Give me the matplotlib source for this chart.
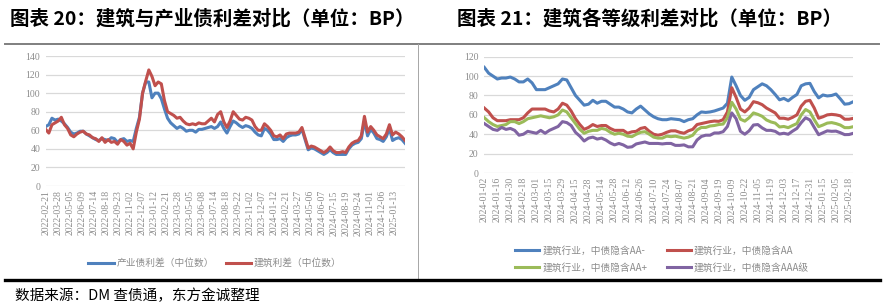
import numpy as np
import matplotlib.pyplot as plt
from matplotlib.lines import Line2D

plt.rcParams['font.family'] = ['Noto Sans CJK SC', 'DejaVu Sans']

# ---- left chart: 产业债 vs 建筑 spreads (BP), one reading about every 6.5 trading days
left_ticks = ['2022-02-21', '2022-03-28', '2022-05-05', '2022-06-09', '2022-07-14',
              '2022-08-18', '2022-09-23', '2022-11-02', '2022-12-07', '2023-01-12',
              '2023-02-21', '2023-03-28', '2023-05-05', '2023-06-08', '2023-07-14',
              '2023-08-18', '2023-09-22', '2023-11-02', '2023-12-07', '2024-01-12',
              '2024-02-21', '2024-03-27', '2024-05-06', '2024-06-07', '2024-07-15',
              '2024-08-19', '2024-09-24', '2024-11-01', '2024-12-06', '2025-01-13']
ind_spread = [64, 66, 73, 71, 72, 70, 67, 63, 58, 56,
              57, 59, 59, 56, 54, 52, 50, 49, 51, 50,
              49, 52, 51, 47, 50, 51, 48, 49, 48, 62,
              74, 100, 112, 112, 95, 100, 100, 94, 83, 73,
              68, 65, 62, 64, 62, 59, 60, 60, 58, 61,
              61, 62, 63, 64, 62, 64, 69, 62, 57, 64,
              70, 68, 65, 63, 65, 64, 62, 58, 55, 54,
              62, 60, 56, 50, 50, 51, 48, 52, 54, 55,
              55, 56, 61, 50, 39, 41, 40, 38, 36, 34,
              36, 39, 36, 34, 34, 34, 34, 40, 44, 46,
              47, 51, 70, 54, 61, 57, 51, 50, 48, 53,
              62, 49, 51, 52, 50, 46]
bld_spread = [61, 57, 66, 68, 70, 74, 66, 62, 55, 53,
              56, 58, 59, 56, 55, 52, 51, 48, 52, 47,
              50, 47, 48, 45, 50, 48, 44, 46, 40, 58,
              72, 100, 113, 125, 118, 108, 112, 110, 92, 80,
              78, 76, 73, 74, 70, 67, 66, 67, 66, 68,
              67, 67, 70, 73, 69, 77, 80, 69, 63, 70,
              80, 76, 72, 71, 74, 73, 71, 64, 60, 60,
              67, 64, 60, 54, 53, 55, 51, 56, 57, 57,
              57, 58, 63, 52, 41, 43, 42, 40, 38, 36,
              38, 42, 38, 36, 36, 37, 36, 42, 46, 48,
              49, 54, 75, 58, 64, 60, 55, 53, 51, 56,
              66, 55, 58, 56, 53, 49]

# ---- right chart: 建筑行业 by implied rating (BP), three readings per 10 trading days
right_ticks = ['2024-01-02', '2024-01-16', '2024-01-30', '2024-02-18', '2024-03-01',
               '2024-03-15', '2024-03-29', '2024-04-15', '2024-04-28', '2024-05-14',
               '2024-05-28', '2024-06-12', '2024-06-26', '2024-07-10', '2024-07-24',
               '2024-08-07', '2024-08-21', '2024-09-04', '2024-09-19', '2024-10-09',
               '2024-10-22', '2024-11-05', '2024-11-19', '2024-12-03', '2024-12-17',
               '2024-12-31', '2025-01-15', '2025-02-05', '2025-02-18']
aa_minus = [109, 103, 100, 97, 98, 98, 99, 97, 94, 94,
            97, 93, 86, 86, 86, 88, 90, 92, 97, 96,
            88, 80, 75, 70, 71, 75, 72, 74, 74, 71,
            68, 68, 66, 63, 62, 66, 69, 65, 61, 58,
            56, 55, 55, 56, 55.5, 55, 53, 55, 56, 60,
            63, 62.5, 63, 64, 65.5, 67, 72, 99, 90, 80,
            75, 78, 86, 89, 92, 90, 86, 81, 75.5, 77,
            74.5, 78, 81, 90, 92, 92.5, 84, 77.5, 80.5, 79.5,
            80, 81.5, 76.5, 71, 71.5, 73.6]
aa = [67, 63, 57, 54, 54, 54, 55, 55, 55, 57,
      62, 66, 66, 66, 66, 64, 63, 66, 72, 70,
      64, 56, 50, 45, 47, 50, 48, 49, 49, 46,
      44, 44, 44, 41, 42.5, 43, 46, 47, 43, 40,
      39, 40, 42, 43.5, 43.5, 42, 41, 43.5, 45, 50,
      51, 52, 53, 53.6, 53.3, 55, 63, 88, 78, 66,
      63, 67, 73.6, 72.5, 70.5, 67, 64.5, 62, 56.5, 56.5,
      55.5, 57.4, 60, 69, 74, 75, 67, 56.5, 58, 60,
      60.5, 60, 59, 55.5, 55.5, 56.4]
aa_plus = [57, 53, 50, 48, 49, 50, 53, 53, 51, 53,
           56, 57, 58, 59, 58, 57, 58, 60, 65, 63,
           57, 51, 45, 41, 43, 44, 44, 46, 45, 42,
           40, 41, 40, 38, 37.5, 40, 42, 42.6, 40, 37,
           36, 36, 38, 37.5, 38, 37, 36, 37, 39, 44.5,
           47, 47, 48.5, 49, 50, 50.5, 57, 73, 66, 55.5,
           53.5, 57, 62, 60.5, 58.5, 54.7, 52.7, 51.5, 47.5, 48,
           46.8, 49, 51, 60, 65.5, 63, 55, 47.8, 49.5, 51.5,
           52, 51, 49.5, 46.8, 46.8, 47.8]
aaa = [51, 48, 45, 44, 47, 45, 46, 44, 39, 40,
       43, 42, 41, 44, 41, 44, 46, 48, 53, 52,
       49, 42, 38, 33, 36, 37, 35, 36, 34, 31,
       29, 30.5, 29, 26.5, 27, 30, 31, 32, 30.5, 30.5,
       30.5, 30, 30.5, 30.5, 28.5, 28.5, 29, 27, 27, 34,
       37.7, 39, 39, 41.3, 41.3, 42.6, 48, 62, 56, 43,
       40, 43.5, 49.5, 50, 46.5, 44, 44, 43, 40.2, 41,
       40, 43.2, 46, 52, 57, 54.7, 47, 39.5, 41.5, 43.5,
       43, 43.2, 41.6, 39.6, 39.7, 41]

BLUE, RED, GREEN, PURPLE = '#4F81BD', '#C0504D', '#9BBB59', '#8064A2'
GRAY_TXT = '#8c8c8c'
W, H = 885, 305


def rect(l, t, r, b):
    return [l / W, 1 - b / H, (r - l) / W, (b - t) / H]


def fig_line(fig, x0, y0, x1, y1, color, lw):
    fig.add_artist(Line2D([x0 / W, x1 / W], [1 - y0 / H, 1 - y1 / H],
                          transform=fig.transFigure, color=color, lw=lw))


def style(ax, ticks, step, ymax):
    ax.set_ylim(0, ymax)
    ax.set_yticks(range(0, ymax + 1, 20))
    ax.set_xticks(np.arange(len(ticks)) * step)
    ax.set_xticklabels(ticks, rotation=90)
    ax.yaxis.grid(True, color='#d9d9d9', lw=0.9)
    ax.set_axisbelow(True)
    for s in ax.spines.values():
        s.set_visible(False)
    ax.tick_params(length=0, labelsize=7, labelcolor=GRAY_TXT)
    ax.tick_params(axis='y', pad=4)
    ax.tick_params(axis='x', pad=3)
    for lab in ax.get_xticklabels() + ax.get_yticklabels():
        lab.set_family(['Liberation Serif'])


fig = plt.figure(figsize=(W / 100, H / 100), dpi=100)

# left panel
ax1 = fig.add_axes(rect(45.7, 56, 405.3, 186))
x1 = np.arange(len(ind_spread)) * 6.5
ax1.plot(x1, ind_spread, color=BLUE, lw=2.2, label='产业债利差（中位数）')
ax1.plot(x1, bld_spread, color=RED, lw=2.2, label='建筑利差（中位数）')
ax1.set_xlim(0, 748)
style(ax1, left_ticks, 25, 140)
ax1.legend(loc='center', bbox_to_anchor=(215 / W, 1 - 263 / H), bbox_transform=fig.transFigure,
           ncol=2, frameon=False, fontsize=7, labelcolor=GRAY_TXT, handlelength=2.6,
           columnspacing=1.2, handletextpad=0.3)

# right panel
ax2 = fig.add_axes(rect(484.3, 56.7, 853.3, 173))
x2 = np.arange(len(aa_minus)) * 10 / 3
l_b, = ax2.plot(x2, aa_minus, color=BLUE, lw=2.2, label='建筑行业，中债隐含AA-')
l_r, = ax2.plot(x2, aa, color=RED, lw=2.2, label='建筑行业，中债隐含AA')
l_g, = ax2.plot(x2, aa_plus, color=GREEN, lw=2.2, label='建筑行业，中债隐含AA+')
l_p, = ax2.plot(x2, aaa, color=PURPLE, lw=2.2, label='建筑行业，中债隐含AAA级')
ax2.set_xlim(0, 283.3)
style(ax2, right_ticks, 10, 120)
ax2.legend(handles=[l_b, l_g, l_r, l_p], loc='center', bbox_to_anchor=(662 / W, 1 - 259 / H),
           bbox_transform=fig.transFigure, ncol=2, frameon=False, fontsize=7,
           labelcolor=GRAY_TXT, handlelength=2.5, columnspacing=2.0, handletextpad=0.3,
           labelspacing=0.75)

# titles, frame lines, source
fig.text(10 / W, 1 - 19 / H, '图表 20：建筑与产业债利差对比（单位：BP）', fontsize=14, weight='bold',
         va='center', ha='left')
fig.text(457 / W, 1 - 19 / H, '图表 21：建筑各等级利差对比（单位：BP）', fontsize=14, weight='bold',
         va='center', ha='left')
fig_line(fig, 5, 44, 879, 44, '#7f7f7f', 1.4)
fig_line(fig, 418.3, 44, 418.3, 279, '#a6a6a6', 0.7)
fig_line(fig, 5, 280, 880, 280, '#000000', 2.4)
fig.text(15 / W, 1 - 296 / H, '数据来源：DM 查债通，东方金诚整理', fontsize=10.5, va='center', ha='left')

fig.savefig('out.png', dpi=100)
